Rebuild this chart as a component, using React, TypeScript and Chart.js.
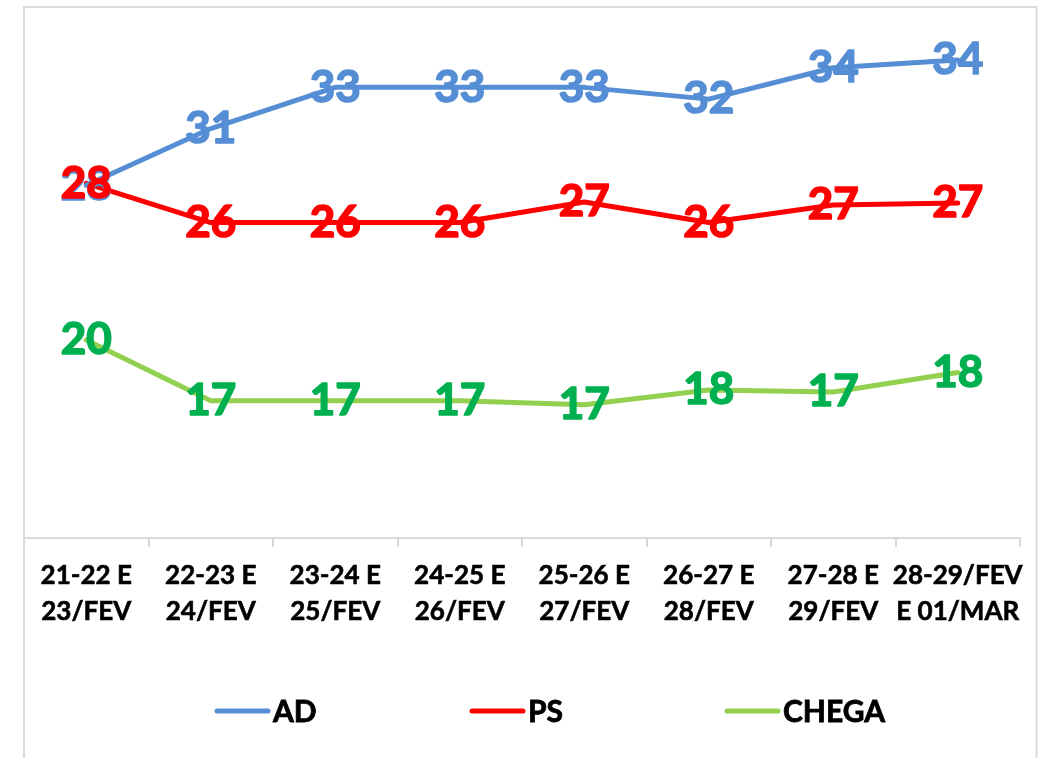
import React, { useEffect, useRef } from "react";
import { Chart, registerables } from "chart.js";

Chart.register(...registerables);

const categories: string[][] = [
  ["21-22 E", "23/FEV"],
  ["22-23 E", "24/FEV"],
  ["23-24 E", "25/FEV"],
  ["24-25 E", "26/FEV"],
  ["25-26 E", "27/FEV"],
  ["26-27 E", "28/FEV"],
  ["27-28 E", "29/FEV"],
  ["28-29/FEV", "E 01/MAR"],
];

const adValues = [28.0, 30.9, 33.0, 33.0, 33.0, 32.4, 34.0, 34.4];
const psValues = [28.1, 26.1, 26.1, 26.1, 27.15, 26.1, 27.0, 27.1];
const chegaValues = [20.1, 17.0, 17.0, 17.0, 16.8, 17.55, 17.45, 18.45];

const adLabels = [28, 31, 33, 33, 33, 32, 34, 34];
const psLabels = [28, 26, 26, 26, 27, 26, 27, 27];
const chegaLabels = [20, 17, 17, 17, 17, 18, 17, 18];

const seriesNames = ["AD", "PS", "CHEGA"];
const lineColors = ["#558ED5", "#FF0000", "#92D050"];
const labelColors = ["#558ED5", "#FF0000", "#00B050"];

const FONT = "Lato, 'Open Sans', sans-serif";

const framePlugin = {
  id: "frame",
  beforeDraw(chart: any) {
    const ctx = chart.ctx;
    ctx.save();
    ctx.fillStyle = "#ffffff";
    ctx.fillRect(0, 0, chart.width, chart.height);
    ctx.strokeStyle = "#d9d9d9";
    ctx.lineWidth = 2;
    ctx.strokeRect(24, 7, 1012.5, 800);
    ctx.restore();
  },
};

const valueLabelPlugin = {
  id: "valueLabels",
  afterDatasetsDraw(chart: any) {
    const ctx = chart.ctx;
    ctx.save();
    ctx.font = `bold 44px ${FONT}`;
    ctx.textAlign = "center";
    ctx.textBaseline = "middle";
    ctx.lineJoin = "round";
    ctx.lineWidth = 1.6;
    chart.data.datasets.forEach((ds: any, di: number) => {
      const meta = chart.getDatasetMeta(di);
      ctx.fillStyle = ds.labelColor;
      ctx.strokeStyle = ds.labelColor;
      meta.data.forEach((pt: any, i: number) => {
        const t = String(ds.displayLabels[i]);
        ctx.fillText(t, pt.x, pt.y);
        ctx.strokeText(t, pt.x, pt.y);
      });
    });
    ctx.restore();
  },
};

const legendPlugin = {
  id: "customLegend",
  afterDraw(chart: any) {
    const ctx = chart.ctx;
    const area = chart.chartArea;
    const cx = (area.left + area.right) / 2;
    const y = area.bottom + 173;
    ctx.save();
    ctx.font = `bold 30px ${FONT}`;
    ctx.textBaseline = "middle";
    ctx.textAlign = "left";
    chart.data.datasets.forEach((ds: any, i: number) => {
      const x0 = cx - 307 + i * 255;
      ctx.strokeStyle = ds.borderColor;
      ctx.lineWidth = 5;
      ctx.lineCap = "round";
      ctx.beginPath();
      ctx.moveTo(x0 + 2, y);
      ctx.lineTo(x0 + 53, y);
      ctx.stroke();
      ctx.fillStyle = "#000000";
      ctx.strokeStyle = "#000000";
      ctx.lineWidth = 0.8;
      ctx.fillText(ds.label, x0 + 58, y + 1);
      ctx.strokeText(ds.label, x0 + 58, y + 1);
    });
    ctx.restore();
  },
};

export default function App() {
  const canvasRef = useRef<HTMLCanvasElement | null>(null);

  useEffect(() => {
    if (!canvasRef.current) return;
    const values = [adValues, psValues, chegaValues];
    const labels = [adLabels, psLabels, chegaLabels];
    const chart = new Chart(canvasRef.current, {
      type: "line",
      data: {
        labels: categories,
        datasets: seriesNames.map((name, i) => ({
          label: name,
          data: values[i],
          borderColor: lineColors[i],
          backgroundColor: lineColors[i],
          borderWidth: 5,
          pointRadius: 0,
          pointHoverRadius: 0,
          tension: 0,
          borderJoinStyle: "round",
          borderCapStyle: "round",
          fill: false,
          labelColor: labelColors[i],
          displayLabels: labels[i],
        })) as any,
      },
      options: {
        responsive: false,
        animation: false,
        devicePixelRatio: 1,
        layout: { padding: { left: 24, right: 25, top: 9, bottom: 100 } },
        plugins: {
          legend: { display: false },
          tooltip: { enabled: false },
          title: { display: false },
        },
        scales: {
          x: {
            type: "category",
            offset: true,
            grid: {
              offset: true,
              drawOnChartArea: false,
              drawTicks: true,
              tickLength: 9,
              color: "#d9d9d9",
              lineWidth: 2,
            },
            border: { display: true, color: "#d9d9d9", width: 2 },
            ticks: {
              color: "#000000",
              textStrokeColor: "#000000",
              textStrokeWidth: 0.6,
              font: { family: FONT, size: 26, weight: "bold", lineHeight: 1.4 },
              padding: 10,
              maxRotation: 0,
              minRotation: 0,
              autoSkip: false,
            },
            afterFit(scale: any) {
              scale.height = 120;
            },
          },
          y: {
            display: false,
            min: 10,
            max: 37,
          },
        },
      },
      plugins: [framePlugin, valueLabelPlugin, legendPlugin],
    });
    return () => chart.destroy();
  }, []);

  return (
    <div style={{ position: "fixed", left: 0, top: 0, width: 1045, height: 758, background: "#fff" }}>
      <canvas ref={canvasRef} width={1045} height={758} style={{ display: "block" }} />
    </div>
  );
}
